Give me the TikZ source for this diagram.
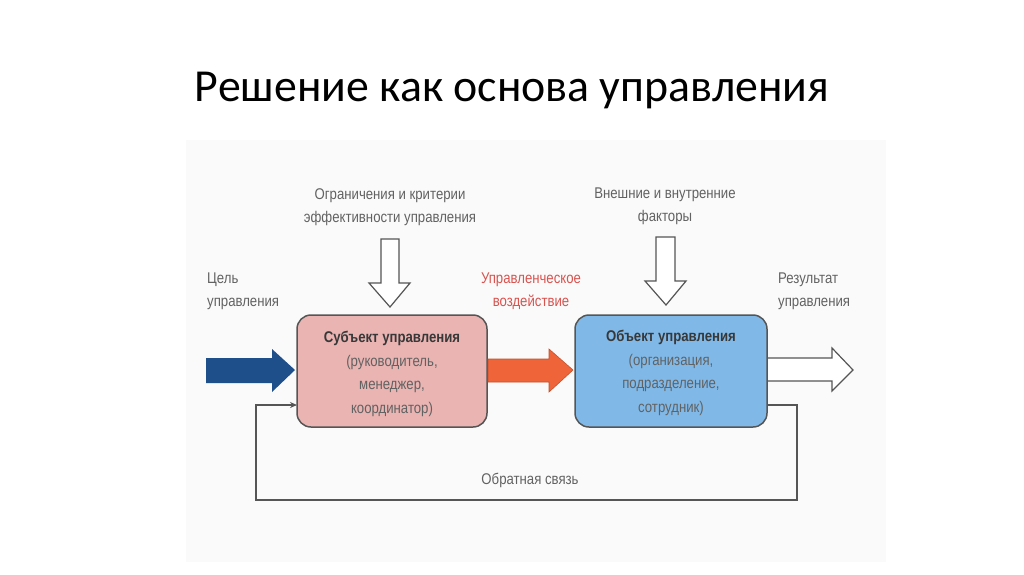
\documentclass[tikz,border=0pt]{standalone}
\usepackage{fontspec}
\setmainfont{Liberation Sans}
\newfontfamily\titlefont{Carlito}
\newfontfamily\narrow[FakeStretch=0.85]{Liberation Sans}
\usetikzlibrary{arrows.meta}
\definecolor{txtgrey}{HTML}{626262}
\definecolor{darkgrey}{HTML}{383838}
\definecolor{edgegrey}{HTML}{555555}
\definecolor{pinkfill}{HTML}{E9B4B2}
\definecolor{bluefill}{HTML}{80B9E8}
\definecolor{navy}{HTML}{1F4F8A}
\definecolor{orangefill}{HTML}{F0643A}
\definecolor{redtxt}{HTML}{D9534F}
\definecolor{panel}{HTML}{FAFAFA}
\tikzset{
  lbl/.style={font=\narrow\fontsize{15.5}{23}\selectfont, text=txtgrey, align=center, inner sep=0pt},
  lbll/.style={lbl, align=left},
  boxtxt/.style={font=\narrow\fontsize{15.5}{23.5}\selectfont, text=txtgrey, align=center, inner sep=0pt},
  mainbox/.style={draw=edgegrey, line width=1.5pt, rounded corners=14pt},
  hollow/.style={draw=edgegrey, line width=1.2pt, fill=white, line join=miter},
  fb/.style={draw=edgegrey, line width=1.5pt}
}
\begin{document}
\begin{tikzpicture}[x=1pt,y=-1pt]
\useasboundingbox (0,0) rectangle (1024,574);
\fill[white] (0,0) rectangle (1024,574);
\fill[panel] (186,140) rectangle (886,562);

% title
\node[font=\titlefont\fontsize{45.8}{52}\selectfont, anchor=base, inner sep=0pt] (title) at (512,101) {Решение как основа управления};

% boxes
\draw[mainbox, fill=pinkfill] (297,315) rectangle (487,427);
\coordinate (subjC) at (392,374);
\draw[mainbox, fill=bluefill] (575,315) rectangle (767,427);
\coordinate (objC) at (671,373);

\node[boxtxt] (subj) at (subjC) {{\bfseries\color{darkgrey}Субъект управления}\\(руководитель,\\менеджер,\\координатор)};
\node[boxtxt] (obj) at (objC) {{\bfseries\color{darkgrey}Объект управления}\\(организация,\\подразделение,\\сотрудник)};

% blue input arrow
\fill[navy] (206,358) -- (272,358) -- (272,349) -- (295,370) -- (272,392) -- (272,383) -- (206,383) -- cycle;
% orange arrow
\fill[orangefill, draw=orangefill!80!black, line width=0.6pt] (488,359) -- (549,359) -- (549,349) -- (573,370) -- (549,392) -- (549,382) -- (488,382) -- cycle;
% white output arrow
\draw[hollow] (768,358) -- (832,358) -- (832,348) -- (853,370) -- (832,391) -- (832,381) -- (768,381);
% down arrows
\draw[hollow] (381,239) -- (399,239) -- (399,283) -- (410,283) -- (390,307) -- (369,283) -- (381,283) -- cycle;
\draw[hollow] (656,237) -- (675,237) -- (675,281) -- (686,281) -- (666,305) -- (645,281) -- (656,281) -- cycle;

% feedback loop
\coordinate (fbA) at (767,405);
\coordinate (fbB) at (797,405);
\coordinate (fbC) at (797,500);
\coordinate (fbD) at (256,500);
\coordinate (fbE) at (256,405);
\coordinate (fbF) at (297,405);
\draw[fb, -{Stealth[length=7pt,width=6pt]}] (fbA) -- (fbB) -- (fbC) -- (fbD) -- (fbE) -- (fbF);

% labels
\node[lbl] (constr) at (390,207) {Ограничения и критерии\\эффективности управления};
\node[lbl] (factors) at (665,206) {Внешние и внутренние\\факторы};
\node[lbll, anchor=west] (goal) at (207,291) {Цель\\управления};
\node[lbl, text=redtxt] (action) at (531,291) {Управленческое\\воздействие};
\node[lbll, anchor=west] (result) at (778,291) {Результат\\управления};
\node[lbl] (feedback) at (530,480) {Обратная связь};
\end{tikzpicture}
\end{document}
